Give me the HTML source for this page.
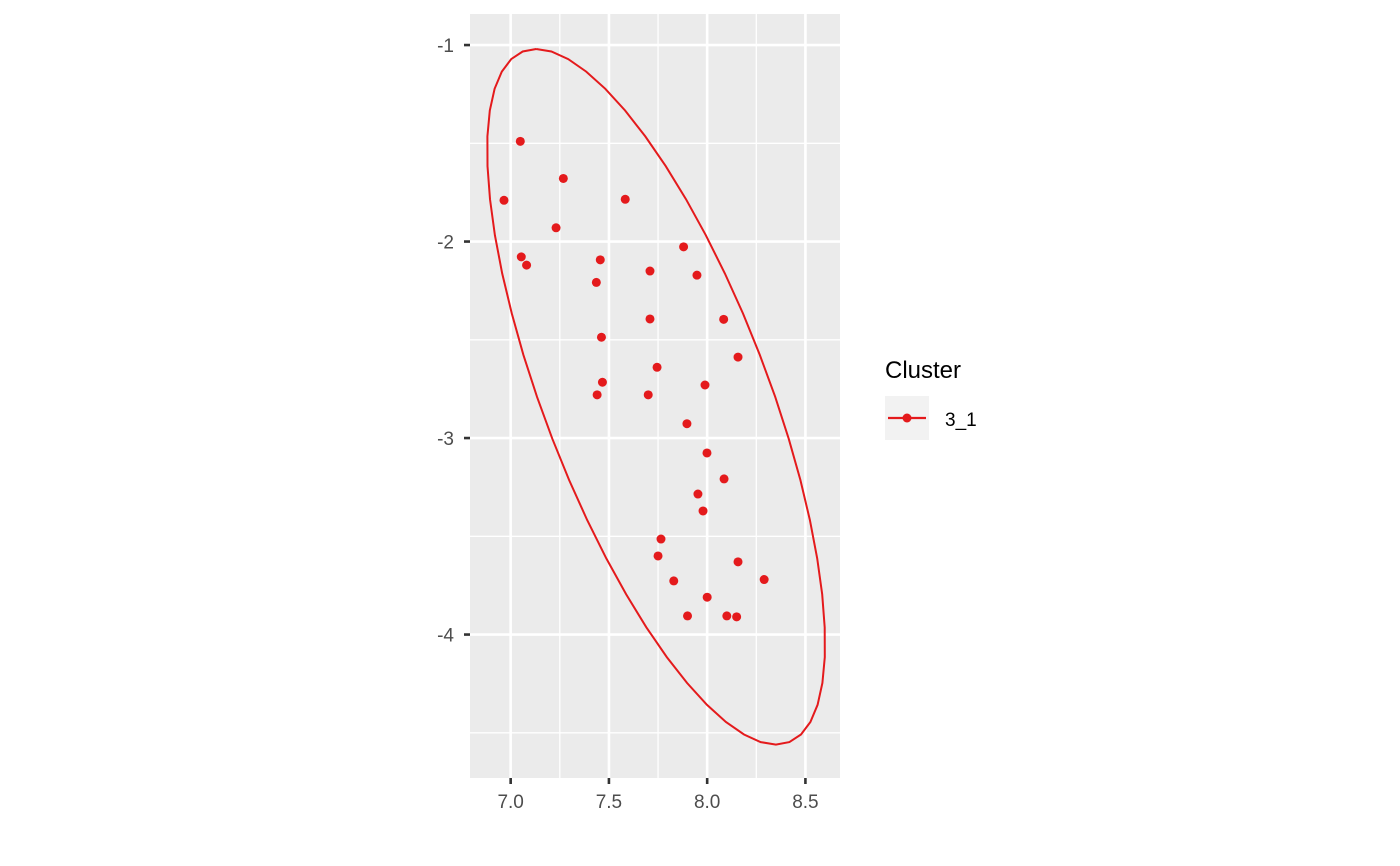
<!DOCTYPE html>
<html><head><meta charset="utf-8"><style>
html,body{margin:0;padding:0;background:#fff;}
svg{display:block;font-family:"Liberation Sans",Arial,sans-serif;}
</style></head><body>
<svg id="chart" width="1400" height="866" viewBox="0 0 1400 866">
<rect x="0" y="0" width="1400" height="866" fill="#fff"/>
<g id="panel"></g>
<g id="axes"></g>
<g id="legend">
<text x="885" y="378" font-size="24" fill="#000">Cluster</text>
<rect x="885" y="396" width="44" height="44" fill="#f2f2f2"/>
<line x1="888" y1="418" x2="926" y2="418" stroke="#e41a1c" stroke-width="2.2"/>
<circle cx="907" cy="418" r="4.5" fill="#e41a1c"/>
<text x="945" y="426" font-size="19" fill="#000">3_1</text>
</g>
</svg>
<script>
const xs = [7.049,7.268,6.966,7.583,7.231,7.054,7.081,7.456,7.436,7.709,7.880,7.948,7.709,8.084,7.462,8.157,7.745,7.467,7.989,7.440,7.700,7.897,7.999,8.086,7.953,7.979,7.765,7.750,8.157,7.830,8.290,8.000,7.900,8.100,8.150];
const ys = [-1.490,-1.679,-1.790,-1.785,-1.930,-2.078,-2.120,-2.093,-2.208,-2.150,-2.027,-2.171,-2.394,-2.396,-2.487,-2.588,-2.640,-2.716,-2.730,-2.780,-2.780,-2.927,-3.076,-3.208,-3.285,-3.371,-3.514,-3.600,-3.630,-3.727,-3.720,-3.810,-3.905,-3.905,-3.910];
const xTicks = [7.0,7.5,8.0,8.5];
const xTickLabels = ["7.0","7.5","8.0","8.5"];
const xMinor = [7.25,7.75,8.25];
const yTicks = [-1,-2,-3,-4];
const yTickLabels = ["-1","-2","-3","-4"];
const yMinor = [-1.5,-2.5,-3.5,-4.5];
const ellipseCenter = [7.74,-2.79];
const ellipseU = [-0.61,1.77];
const ellipseV = [0.606,0];

const L=470,R=840,T=14,B=778;
const xMin=6.793,xMax=8.676,yMin=-4.730,yMax=-0.842;
const sx=v=>L+(v-xMin)/(xMax-xMin)*(R-L);
const sy=v=>B-(v-yMin)/(yMax-yMin)*(B-T);
const NS="http://www.w3.org/2000/svg";
function mk(tag,attrs,parent){const e=document.createElementNS(NS,tag);for(const k in attrs)e.setAttribute(k,attrs[k]);parent.appendChild(e);return e;}
const panel=document.getElementById('panel');
const axes=document.getElementById('axes');
let bg=mk('rect',{x:L,y:T,width:R-L,height:B-T,fill:'#ebebeb'},panel);


xMinor.forEach(v=>{const l=mk('line',{x1:sx(v),x2:sx(v),y1:T,y2:B,stroke:'#fff','stroke-width':1.3},panel);

});
yMinor.forEach(v=>{const l=mk('line',{x1:L,x2:R,y1:sy(v),y2:sy(v),stroke:'#fff','stroke-width':1.3},panel);

});
xTicks.forEach((v,i)=>{
const l=mk('line',{x1:sx(v),x2:sx(v),y1:T,y2:B,stroke:'#fff','stroke-width':2.6},panel);


const t=mk('line',{x1:sx(v),x2:sx(v),y1:B,y2:B+6,stroke:'#333','stroke-width':2.6},axes);


const tx=mk('text',{x:sx(v),y:B+30,'text-anchor':'middle','font-size':19,fill:'#4d4d4d'},axes);
tx.textContent=xTickLabels[i];


});
yTicks.forEach((v,i)=>{
const l=mk('line',{x1:L,x2:R,y1:sy(v),y2:sy(v),stroke:'#fff','stroke-width':2.6},panel);


const t=mk('line',{x1:L-6,x2:L,y1:sy(v),y2:sy(v),stroke:'#333','stroke-width':2.6},axes);


const tx=mk('text',{x:L-16,y:sy(v)+7,'text-anchor':'end','font-size':19,fill:'#4d4d4d'},axes);
tx.textContent=yTickLabels[i];


});
let pts=[];
for(let k=0;k<=52;k++){const t=2*Math.PI*k/52;
const x=ellipseCenter[0]+ellipseU[0]*Math.cos(t)+ellipseV[0]*Math.sin(t);
const y=ellipseCenter[1]+ellipseU[1]*Math.cos(t)+ellipseV[1]*Math.sin(t);
pts.push(sx(x).toFixed(1)+','+sy(y).toFixed(1));}
const el=mk('polyline',{points:pts.join(' '),fill:'none',stroke:'#e41a1c','stroke-width':2},panel);


xs.forEach((x,i)=>{const c=mk('circle',{cx:sx(x),cy:sy(ys[i]),r:4.5,fill:'#e41a1c'},panel);

});
</script>
</body></html>
